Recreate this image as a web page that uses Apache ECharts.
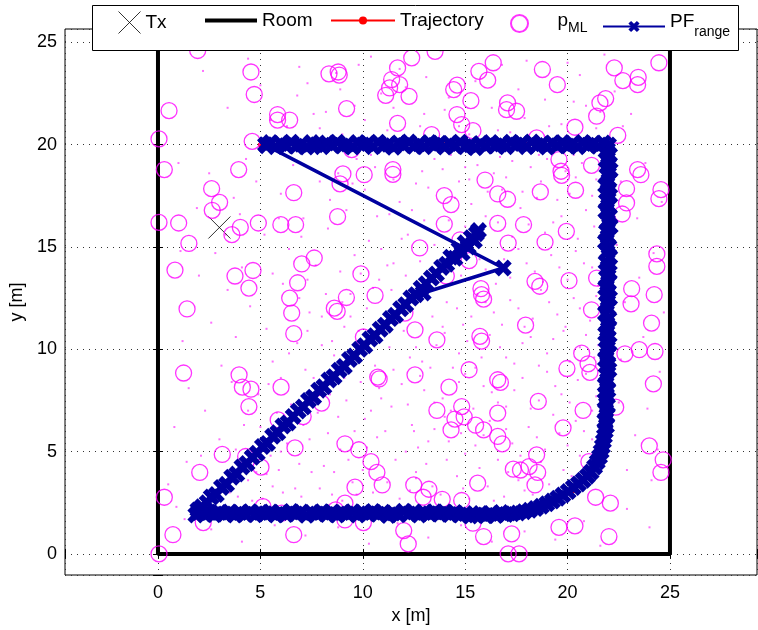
<!DOCTYPE html>
<html>
<head>
<meta charset="utf-8">
<script src="https://cdn.jsdelivr.net/npm/echarts@6/dist/echarts.min.js"></script>
<style>html,body{margin:0;padding:0;background:#fff}#c{width:758px;height:630px}</style>
</head>
<body>
<div id="c"></div>
<script>
// ---- axis limits (axis equal) ----
const xLimits = [-4.54, 29.25];
const yLimits = [-1.03, 25.65];
const tickValues = [0, 5, 10, 15, 20, 25];

// ---- transmitter ----
const txPos = [[3.0, 15.95]];

// ---- room walls ----
const roomWalls = [[0, 30], [0, 0], [25, 0], [25, 30]];

// ---- true trajectory ----
const trajectory = [
  [5,20],[6,20],[8,20],[10,20],[12,20],[14,20],[16,20],[18,20],[20,20],[22,20],
  [22,18],[22,16],[22,14],[22,12],[22,10],[22,8],[21.9,6],[21.6,4.7],[21.1,3.8],[20.3,3.1],
  [19.3,2.5],[18,2.05],[17,2],[15,2],[13,2],[11,2],[9,2],[7,2],[5,2],[3,2],[2,2],
  [3,3.05],[4,4.1],[5,5.1],[6,6.1],[7,7.1],[8,8.1],[9,9.1],[10,10.1],[11,11.1],
  [12,12.1],[13,13.1],[14,14.1],[15,15.1],[15.6,15.7]
];

// ---- PF range estimate ----
const pfRange = [
  [12.95,12.75],[16.86,13.97],[5.3,19.95],
  [5.25,20.0],[5.5,20.1],[5.75,19.9],[6.0,20.05],[6.25,19.95],[6.5,20.12],[6.75,19.92],[7.0,20.02],
  [7.25,19.88],[7.5,20.1],[7.75,20.0],[8.0,19.9],[8.25,20.08],[8.5,19.97],[8.75,20.12],[9.0,19.93],
  [9.25,20.03],[9.5,19.88],[9.75,20.1],[10.0,19.98],[10.25,20.06],[10.5,19.9],[10.75,20.12],[11.0,19.95],
  [11.25,20.02],[11.5,19.87],[11.75,20.08],[12.0,19.96],[12.25,20.13],[12.5,19.92],[12.75,20.04],[13.0,19.9],
  [13.25,20.1],[13.5,19.97],[13.75,20.07],[14.0,19.88],[14.25,20.05],[14.5,19.93],[14.75,20.12],[15.0,19.9],
  [15.25,20.0],[15.5,19.85],[15.75,20.05],[16.0,19.92],[16.25,20.1],[16.5,19.95],[16.75,20.03],[17.0,19.9],
  [17.25,20.12],[17.5,19.98],[17.75,20.06],[18.0,19.9],[18.25,20.13],[18.5,19.96],[18.75,20.04],[19.0,19.88],
  [19.25,20.08],[19.5,19.95],[19.75,20.1],[20.0,19.93],[20.25,20.05],[20.5,19.9],[20.75,20.1],[21.0,19.97],
  [21.25,20.05],[21.5,19.92],[21.75,20.08],[22.0,19.98],
  [21.95,19.75],[22.05,19.5],[21.88,19.25],[22.0,19.0],[22.08,18.75],[21.92,18.5],[22.02,18.25],[21.86,18.0],
  [21.98,17.75],[22.06,17.5],[21.9,17.25],[22.0,17.0],[21.87,16.75],[22.05,16.5],[21.95,16.25],[22.08,16.0],
  [21.9,15.75],[21.98,15.5],[21.85,15.25],[22.02,15.0],[21.93,14.75],[22.06,14.5],[21.88,14.25],[21.98,14.0],
  [22.04,13.75],[21.9,13.5],[22.0,13.25],[21.86,13.0],[21.96,12.75],[22.05,12.5],[21.9,12.25],[21.98,12.0],
  [21.85,11.75],[22.02,11.5],[21.92,11.25],[21.99,11.0],[21.86,10.75],[21.95,10.5],[22.03,10.25],[21.88,10.0],
  [21.96,9.75],[21.85,9.5],[21.97,9.25],[22.02,9.0],[21.88,8.75],[21.95,8.5],[21.84,8.25],[21.97,8.0],
  [21.9,7.75],[21.83,7.5],[21.95,7.25],[21.86,7.0],[21.92,6.75],[21.82,6.5],[21.9,6.25],[21.84,6.0],
  [21.8,5.75],[21.75,5.5],[21.7,5.25],[21.64,5.0],[21.56,4.75],[21.45,4.5],[21.32,4.25],[21.15,4.0],
  [20.97,3.8],[20.76,3.6],[20.53,3.42],[20.28,3.25],[20.03,3.05],[19.77,2.88],[19.52,2.72],[19.26,2.58],
  [18.99,2.45],[18.72,2.33],[18.44,2.22],[18.15,2.13],[17.87,2.06],[17.58,2.0],[17.3,1.96],
  [17.0,1.93],[16.75,2.02],[16.5,1.88],[16.25,1.97],[16.0,1.86],[15.75,1.98],[15.5,1.9],[15.25,1.85],
  [15.0,1.97],[14.75,1.9],[14.5,2.03],[14.25,1.93],[14.0,2.05],[13.75,1.94],[13.5,2.06],[13.25,1.96],
  [13.0,2.02],[12.75,1.9],[12.5,2.05],[12.25,1.95],[12.0,2.08],[11.75,1.92],[11.5,2.0],[11.25,1.88],
  [11.0,2.04],[10.75,1.94],[10.5,2.07],[10.25,1.96],[10.0,2.02],[9.75,1.9],[9.5,2.06],[9.25,1.95],
  [9.0,2.03],[8.75,1.9],[8.5,2.04],[8.25,1.93],[8.0,2.06],[7.75,1.95],[7.5,2.02],[7.25,1.89],
  [7.0,2.05],[6.75,1.95],[6.5,2.07],[6.25,1.93],[6.0,2.02],[5.75,1.9],[5.5,2.05],[5.25,1.96],
  [5.0,2.03],[4.75,1.91],[4.5,2.06],[4.25,1.94],[4.0,2.02],[3.75,1.9],[3.5,2.05],[3.25,1.95],
  [3.0,2.03],[2.75,1.92],[2.5,2.04],[2.25,1.95],[2.0,2.02],[1.85,1.9],
  [1.95,2.15],[2.15,2.3],[2.4,2.5],[2.6,2.78],[2.85,2.9],[3.1,3.25],[3.35,3.4],[3.6,3.75],
  [3.85,3.9],[4.1,4.25],[4.35,4.42],[4.6,4.72],[4.85,4.92],[5.1,5.25],[5.35,5.4],[5.6,5.75],
  [5.85,5.92],[6.1,6.25],[6.35,6.4],[6.6,6.72],[6.85,6.98],[7.1,7.18],[7.35,7.5],[7.6,7.66],
  [7.85,8.0],[8.1,8.17],[8.35,8.5],[8.6,8.66],[8.85,8.98],[9.1,9.16],[9.35,9.5],[9.6,9.67],
  [9.85,10.0],[10.1,10.17],[10.35,10.5],[10.6,10.66],[10.85,10.98],[11.1,11.18],[11.35,11.5],[11.6,11.66],
  [11.85,11.98],[12.1,12.18],[12.35,12.5],[12.6,12.67],[12.85,12.98],[13.1,13.2],[13.35,13.48],[13.6,13.68],
  [13.85,14.0],[14.1,14.16],[14.3,14.5],[14.5,14.45],[14.7,14.9],[14.85,14.7],[15.0,15.2],[15.15,15.0],
  [15.3,15.45],[15.45,15.3],[15.55,15.65],[15.65,15.8]
];

// ---- maximum-likelihood position candidates (circles) ----
const pML = [
  [1.94,24.6],[4.54,23.55],[4.7,22.45],[0.54,21.66],[5.84,21.47],[5.84,21.2],[6.43,21.2],
  [0.05,20.28],[4.6,20.16],[0.31,18.78],[3.94,18.78],[2.62,17.85],[3.01,17.18],[2.65,16.79],
  [0.05,16.2],[1.01,16.17],[4.02,15.96],[3.61,15.6],[1.51,15.17],[4.9,16.17],[6.0,16.09],
  [6.72,16.09],[8.77,16.48],[6.63,17.65],[9.03,18.57],[8.89,18.08],[10.07,18.53],[11.47,18.78],
  [11.47,18.55],[9.21,21.76],[8.35,23.46],[8.8,23.55],[8.85,23.4],[11.7,23.75],[11.41,23.18],
  [11.8,22.93],[11.31,22.77],[11.12,22.41],[12.26,22.36],[11.7,21.04],[12.39,24.24],
  [7.02,14.17],[7.63,14.46],[6.82,13.25],[4.64,13.85],[3.76,13.58],[4.44,12.99],[0.83,13.87],
  [9.91,13.68],[9.2,12.53],[10.6,12.63],[6.43,12.5],[9.46,19.76],
  [13.53,24.56],[16.37,24.0],[15.67,23.58],[16.1,23.15],[14.61,22.91],[14.44,22.69],
  [15.28,22.15],[14.6,21.47],[14.83,20.98],[15.38,20.68],[13.36,20.49],[17.07,22.04],
  [17.02,21.71],[17.51,21.63],[18.77,23.67],[19.5,22.93],[20.36,20.85],[21.42,21.39],
  [21.58,22.04],[21.86,22.25],[22.28,23.75],[22.7,23.13],[23.45,23.29],[23.42,22.93],
  [24.46,24.0],[22.45,20.45],[18.49,20.33],[19.58,19.27],[19.68,18.7],[19.71,18.5],
  [21.17,18.99],[23.42,18.78],[23.58,18.53],[22.88,17.85],[22.88,17.15],[22.67,16.61],
  [24.56,17.8],[24.46,17.36],[15.97,18.27],[13.98,17.51],[14.31,17.07],[16.59,17.59],
  [17.07,17.33],[18.67,17.69],[20.39,17.77],[13.98,16.12],[16.59,16.15],[17.85,16.09],
  [19.94,15.76],[18.9,15.24],[17.1,15.19],[12.78,14.95],[14.75,15.35],[15.19,14.33],
  [14.08,13.58],[15.77,12.96],[18.41,13.32],[18.64,13.08],[20.07,13.35],[21.42,13.48],
  [23.13,12.96],[24.36,14.66],[24.36,14.05],[24.23,12.67],
  [1.42,11.97],[6.53,11.77],[6.63,10.76],[8.61,12.01],[8.75,11.85],[10.03,10.6],[1.25,8.84],
  [3.96,8.75],[4.12,8.15],[4.54,8.05],[6.01,8.15],[4.44,7.2],[5.87,6.55],[7.09,6.71],
  [7.99,7.37],[10.73,8.64],[10.8,8.55],[3.14,4.86],[4.28,4.76],[5.03,4.24],[2.04,3.98],
  [6.69,5.18],[9.13,5.38],[9.81,5.09],[10.4,4.51],[10.69,3.98],[10.95,3.37],[9.62,3.26],
  [0.31,2.77],[2.21,1.53],[0.73,0.94],[0.05,0.0],[5.13,2.31],[6.04,1.99],[6.63,0.94],
  [9.13,2.48],[8.67,2.15],[9.13,1.66],[10.03,1.53],[12.0,1.14],[12.22,0.49],[12.55,8.75],
  [12.55,10.95],[12.06,11.77],[12.49,3.37],
  [15.8,12.67],[15.9,12.45],[23.1,12.22],[24.1,11.28],[21.17,11.93],[17.95,11.18],
  [13.62,10.46],[15.72,10.63],[15.8,10.4],[22.8,9.78],[23.5,9.98],[24.27,9.89],[24.19,8.31],
  [20.69,9.81],[21.0,9.29],[21.09,8.87],[19.97,9.06],[15.19,9.0],[14.21,8.15],[16.59,8.51],
  [16.72,8.38],[18.57,7.45],[20.76,7.01],[22.35,7.17],[13.62,7.01],[14.83,7.2],[14.5,6.59],
  [14.95,6.7],[14.31,6.06],[15.51,6.29],[15.9,6.06],[16.59,6.88],[16.59,5.74],[16.81,5.38],
  [19.78,6.16],[18.49,4.84],[17.35,4.14],[17.7,4.1],[18.12,4.27],[18.54,3.98],[18.41,3.37],
  [21.04,4.51],[23.99,5.28],[24.67,4.6],[24.56,3.98],[15.61,3.46],[13.23,3.16],[12.95,2.77],
  [13.88,2.67],[14.83,2.61],[21.37,2.77],[22.09,2.48],[15.38,1.5],[19.58,1.3],[20.36,1.37],
  [15.9,0.85],[17.27,0.98],[22.02,0.85],[17.1,0.0],[17.63,0.0]
];

// ---- particle cloud (sampled by eye) ----
const particles = [
  [12.3,3.1],[13.1,4.4],[13.8,2.9],[14.6,3.8],[15.2,2.7],[16.1,3.3],[16.9,2.8],[17.6,3.6],
  [18.3,2.9],[19.1,3.4],[19.8,4.1],[20.6,4.8],[12.7,5.2],[13.5,6.1],[14.2,5.5],[15.0,4.9],
  [15.9,5.8],[16.6,4.6],[17.3,5.4],[18.1,6.2],[18.9,5.1],[19.6,5.9],[20.4,6.5],[21.2,5.6],
  [12.2,7.3],[13.0,8.0],[13.9,7.6],[14.7,8.4],[15.4,7.1],[16.3,7.9],[17.0,7.2],[17.8,8.6],
  [18.6,7.5],[19.4,8.2],[20.1,7.4],[20.9,8.8],[21.4,7.7],[12.9,9.4],[13.6,10.2],[14.4,9.1],
  [15.1,10.4],[15.8,9.6],[16.7,10.1],[17.4,9.3],[18.2,10.6],[19.0,9.8],[19.8,10.9],[20.6,10.1],
  [21.3,9.6],[13.4,11.6],[14.1,12.3],[14.9,11.2],[15.6,12.7],[16.4,11.8],[17.2,12.4],[17.9,11.1],
  [18.7,12.9],[19.5,11.7],[20.3,12.5],[21.1,11.4],[14.8,13.6],[15.7,14.4],[16.5,13.2],[17.6,14.9],
  [18.4,13.8],[19.2,14.6],[20.0,13.4],[20.8,14.2],[21.5,13.1],[14.2,16.3],[15.3,17.1],[16.0,16.5],
  [16.8,17.8],[17.7,16.9],[18.5,17.4],[19.3,16.2],[20.1,17.6],[20.9,16.8],[21.4,18.3],[12.4,16.8],
  [13.2,17.9],[13.9,18.8],[14.7,18.2],[15.6,19.0],[16.4,18.6],[17.3,19.2],[18.2,18.9],[19.0,19.3],
  [19.9,18.7],[20.7,19.1],[11.5,18.3],[10.6,18.9],[9.7,19.3],[8.8,18.6],[10.1,17.8],[11.9,15.4],
  [12.8,14.3],[13.5,15.1],[11.2,14.1],[12.1,13.6],
  [0.8,6.2],[1.5,8.1],[2.3,7.0],[3.1,9.2],[1.2,10.4],[2.6,11.3],[3.8,10.6],[4.5,12.1],[5.3,11.0],
  [6.1,13.2],[5.6,9.4],[6.8,10.3],[7.4,11.8],[8.2,12.7],[8.9,13.8],[9.6,14.6],[10.3,15.3],[7.7,14.1],
  [6.4,14.9],[5.2,15.6],[4.1,14.0],[3.4,12.9],[2.0,13.6],[1.1,14.8],[1.9,16.9],[3.7,17.4],[4.8,18.2],
  [6.0,17.6],[7.1,16.4],[8.3,15.9],[9.2,16.8],[7.9,18.2],[6.6,19.0],[4.3,19.3],[2.5,18.6],[1.0,19.1],
  [3.0,5.6],[4.2,6.3],[4.9,7.8],[6.0,8.6],[7.2,9.0],[8.0,10.2],[9.1,11.1],[10.2,12.0],[10.8,13.4],
  [11.4,12.9],[5.8,6.9],[2.1,4.8],[3.6,8.4],[6.9,12.5],[8.6,9.7],[9.8,10.9],[10.9,11.5],[4.0,16.6],
  [5.6,13.7],[7.3,13.4],[9.4,12.7],[11.3,16.6],[12.6,18.1],[10.4,19.5],
  [3.5,3.0],[4.4,3.6],[5.1,2.7],[5.9,4.1],[6.7,3.2],[7.4,5.6],[8.1,4.3],[8.8,6.7],[9.5,3.5],
  [10.2,5.2],[10.9,7.6],[11.6,4.6],[6.3,5.4],[7.0,2.8],[8.5,2.9],[9.9,8.4],[10.6,9.2],[11.3,10.1],
  [11.9,8.3],[11.1,6.0],[9.2,7.5],[7.8,6.9],[5.5,4.8],[4.6,2.6],[6.1,3.0],[8.9,5.1],[10.5,3.0],
  [11.8,2.7],[12.4,6.3],[12.0,10.9],[7.5,4.0],[9.6,6.0],[10.0,4.1],[8.4,7.8],[11.5,9.0],[12.6,4.0],
  [5.3,3.9],[6.6,6.1],[9.0,2.6],[10.8,8.1],
  [5.5,21.2],[6.8,22.4],[7.9,20.8],[8.7,23.5],[9.6,21.9],[10.4,24.3],[11.2,20.7],[12.1,22.8],
  [13.0,21.5],[13.8,24.6],[14.7,20.9],[15.5,23.1],[16.3,21.8],[17.2,20.6],[18.0,24.1],[18.9,22.2],
  [19.7,21.0],[20.6,23.4],[21.4,20.8],[22.3,22.6],[6.1,24.8],[7.3,23.0],[9.0,20.5],[10.9,22.5],
  [12.7,25.1],[14.2,22.3],[16.8,23.9],[19.2,24.8],[20.9,21.9],[3.4,21.8],[2.2,23.6],[4.4,24.2],
  [11.8,23.7],[15.9,25.0],[17.6,22.7],[13.5,20.4],[8.2,21.6],[19.9,20.4],[21.8,24.4],[23.1,21.5],
  [22.6,18.2],[23.4,16.4],[24.2,14.7],[22.8,12.3],[23.7,10.6],[24.5,8.9],[22.5,7.4],[23.3,5.8],
  [24.1,3.6],[22.9,2.2],[23.8,19.1],[24.6,17.2],[22.4,15.1],[23.5,13.5],[24.7,11.8],[22.6,9.5],
  [23.9,7.1],[24.4,5.1],[22.9,4.1],[24.0,1.3],
  [2.6,1.2],[4.1,0.6],[5.7,1.4],[7.2,0.9],[8.8,1.3],[10.3,0.5],[11.7,1.5],[13.2,0.8],[14.8,1.4],
  [16.3,0.6],[17.9,1.1],[19.4,0.7],[20.8,1.6],[21.6,0.4],[1.3,1.7],[0.5,3.4],[1.4,4.5],[0.9,2.3],
  [12.6,3.7],[13.4,3.3],[14.1,4.6],[14.9,3.2],[15.7,4.2],[16.4,2.6],[17.1,4.0],[17.9,3.1],[18.7,4.5],
  [19.4,2.8],[20.2,3.8],[12.5,6.0],[13.2,5.5],[14.0,6.7],[14.8,5.9],[15.5,5.3],[16.2,6.5],[17.0,6.1],
  [17.7,4.8],[18.5,5.7],[19.3,6.8],[20.0,5.3],[20.8,6.0],[21.4,4.6],[12.8,8.7],[13.5,7.4],[14.3,7.0],
  [15.0,8.8],[15.9,8.2],[16.6,7.4],[17.4,8.0],[18.2,7.1],[19.0,8.9],[19.7,7.8],[20.5,8.5],[21.2,7.0],
  [12.6,10.1],[13.3,9.1],[14.0,10.8],[14.7,9.8],[15.5,9.1],[16.2,10.7],[17.0,9.6],[17.8,10.3],[18.6,9.2],
  [19.3,10.5],[20.1,9.4],[20.9,10.7],[21.5,10.2],[13.9,11.1],[14.6,12.0],[15.3,11.6],[16.0,12.3],
  [16.8,11.2],[17.6,12.0],[18.3,11.5],[19.1,12.3],[19.9,11.1],[20.6,12.0],[21.4,12.6],[15.2,13.4],
  [16.0,13.9],[16.9,14.4],[17.2,13.5],[18.0,14.2],[18.8,13.3],[19.6,14.0],[20.4,14.8],[21.2,14.0],
  [15.0,16.0],[15.8,15.7],[16.6,16.2],[17.3,15.5],[18.1,16.1],[18.9,15.7],[19.7,16.5],[20.5,15.4],
  [21.3,16.0],[14.5,17.4],[15.2,18.3],[16.1,17.7],[17.0,18.4],[17.8,17.7],[18.7,18.2],[19.5,17.3],
  [20.4,18.4],[21.2,17.5],[13.5,19.3],[14.3,19.5],[15.0,18.9],[16.7,19.4],[18.6,19.5],[20.3,19.5],
  [5.0,6.2],[6.5,7.3],[7.6,8.6],[8.5,10.4],[9.4,11.6],[10.5,13.0],[11.5,14.2],[12.2,15.6],[13.0,16.3],
  [3.8,5.1],[4.4,7.0],[5.4,8.3],[6.4,9.8],[7.3,10.9],[8.0,11.6],[9.0,12.3],[9.9,13.7],[10.9,14.9],
  [11.8,17.2],[12.9,18.7],[8.4,17.3],[9.5,18.1],[10.7,16.5],[7.0,15.5],[5.9,16.4],[2.8,14.7],[3.3,15.6],
  [3.9,2.8],[5.6,3.3],[6.9,4.4],[7.9,3.2],[8.6,4.0],[9.3,4.6],[10.1,6.6],[10.7,5.7],[11.4,7.2],
  [12.1,5.0],[11.2,3.5],[9.7,2.9],[8.3,5.9],[7.1,6.3],[12.3,9.6],[11.7,11.3],[10.4,7.0],[9.1,8.6],
  [6.0,5.0],[4.8,4.0],
  [6.3,20.9],[7.6,21.5],[8.9,22.7],[10.1,21.2],[11.5,21.8],[12.8,20.9],[14.0,21.7],[15.2,20.5],
  [16.6,20.7],[17.9,21.3],[19.1,20.9],[20.3,22.1],[21.6,21.6],[22.7,20.9],[5.0,22.9],[6.9,23.8],
  [9.8,23.9],[13.1,23.3],[17.2,24.8],[20.0,24.0]
];

// ---- styles ----
const FONT = 'Liberation Sans';
const xThin = 'path://M0,0L10,10M10,0L0,10';
const xBold = 'path://M0,2.4L2.4,0L5,2.6L7.6,0L10,2.4L7.4,5L10,7.6L7.6,10L5,7.4L2.4,10L0,7.6L2.6,5Z';
const BLUE = '#00009f';
const MAG = '#ff00ff';

const labelFmt = v => (tickValues.indexOf(Math.round(v * 1000) / 1000) >= 0 ? String(Math.round(v)) : '');

function axisBase(extra) {
  return Object.assign({
    type: 'value',
    axisLine: { show: false },
    axisTick: { show: true, inside: true, length: 5, lineStyle: { color: '#000', width: 1 } },
    splitLine: { show: false },
    axisLabel: { show: false },
  }, extra);
}

const txt = { fontFamily: FONT, fontSize: 18, color: '#000' };
const ltxt = { fontFamily: FONT, fontSize: 19, color: '#000' };

const option = {
  animation: false,
  backgroundColor: '#fff',
  grid: { left: 65, right: 1, top: 29, bottom: 55, containLabel: false, outerBoundsMode: 'none',
          show: true, borderColor: '#000', borderWidth: 1, backgroundColor: 'transparent' },
  xAxis: [
    axisBase({
      min: xLimits[0], max: xLimits[1], position: 'bottom',
      name: 'x [m]', nameLocation: 'middle', nameGap: 31, nameTextStyle: txt,
      axisLabel: { show: true, formatter: labelFmt, margin: 9, fontFamily: FONT, fontSize: 18, color: '#000' },
      splitLine: { show: true, lineStyle: { color: '#333', width: 1, type: [1, 5] } }
    }),
    axisBase({ min: xLimits[0], max: xLimits[1], position: 'top' })
  ],
  yAxis: [
    axisBase({
      min: yLimits[0], max: yLimits[1], position: 'left',
      name: 'y [m]', nameLocation: 'middle', nameGap: 35, nameTextStyle: txt,
      axisLabel: { show: true, formatter: labelFmt, margin: 8, fontFamily: FONT, fontSize: 18, color: '#000' },
      splitLine: { show: true, lineStyle: { color: '#333', width: 1, type: [1, 5] } }
    }),
    axisBase({ min: yLimits[0], max: yLimits[1], position: 'right' })
  ],
  legend: [
    { data: [{ name: 'Tx', icon: xThin, itemStyle: { color: 'rgba(0,0,0,0)', borderColor: '#000', borderWidth: 1 } }],
      left: 118, top: 11, itemWidth: 22, itemHeight: 22, padding: 0, selectedMode: false, z: 110, textStyle: ltxt },
    { data: [{ name: 'Room', icon: 'rect' }], left: 205, top: 11, itemWidth: 52, itemHeight: 4, padding: 0, selectedMode: false, z: 110, textStyle: ltxt },
    { data: ['Trajectory'], left: 330, top: 11, itemWidth: 64, itemHeight: 10, padding: 0, selectedMode: false, z: 110, textStyle: ltxt },
    { data: ['p_ML'], left: 510, top: 11, itemWidth: 66, itemHeight: 17, padding: 0, selectedMode: false, z: 110,
      formatter: '{n|p}{s|ML}',
      textStyle: Object.assign({}, ltxt, { rich: { n: { fontFamily: FONT, fontSize: 19, color: '#000', padding: [0, 0, 6, 0] }, s: { fontFamily: FONT, fontSize: 14, color: '#000', padding: [10, 0, 0, 0] } } }) },
    { data: ['PF_range'], left: 602, top: 12, itemWidth: 62, itemHeight: 14, padding: 0, selectedMode: false, z: 110,
      formatter: '{n|PF}{s|range}',
      textStyle: Object.assign({}, ltxt, { rich: { n: { fontFamily: FONT, fontSize: 19, color: '#000', padding: [0, 0, 10, 0] }, s: { fontFamily: FONT, fontSize: 14, color: '#000', padding: [12, 0, 0, 0] } } }) }
  ],
  graphic: { elements: [
    { type: 'rect', left: 92, top: 5, z: 100, shape: { width: 646, height: 45 }, style: { fill: '#fff', stroke: '#000', lineWidth: 1 } }
  ] },
  series: [
    { name: 'particles', type: 'scatter', data: particles, symbol: 'rect', symbolSize: 2,
      itemStyle: { color: '#ff55ff', opacity: 0.85 }, silent: true, z: 1 },
    { name: 'Tx', type: 'scatter', data: txPos, symbol: xThin, symbolSize: 22,
      itemStyle: { color: 'rgba(0,0,0,0)', borderColor: '#000', borderWidth: 1 }, z: 2 },
    { name: 'Room', type: 'line', data: roomWalls, symbol: 'none', showSymbol: false,
      lineStyle: { color: '#000', width: 4 }, itemStyle: { color: '#000' }, z: 2 },
    { name: 'Trajectory', type: 'line', data: trajectory, symbol: 'circle', symbolSize: 5, showAllSymbol: true,
      lineStyle: { color: '#ff0000', width: 1 }, itemStyle: { color: '#ff0000' }, z: 3 },
    { name: 'p_ML', type: 'scatter', data: pML, symbol: 'circle', symbolSize: 16,
      itemStyle: { color: 'rgba(0,0,0,0)', borderColor: MAG, borderWidth: 1.3 }, z: 4 },
    { name: 'PF_range', type: 'line', data: pfRange, symbol: xBold, symbolSize: 17, showAllSymbol: true,
      lineStyle: { color: BLUE, width: 3.5 }, itemStyle: { color: BLUE }, z: 5 }
  ]
};

const chart = echarts.init(document.getElementById('c'), null, { renderer: 'canvas' });
chart.setOption(option);
</script>
</body>
</html>
